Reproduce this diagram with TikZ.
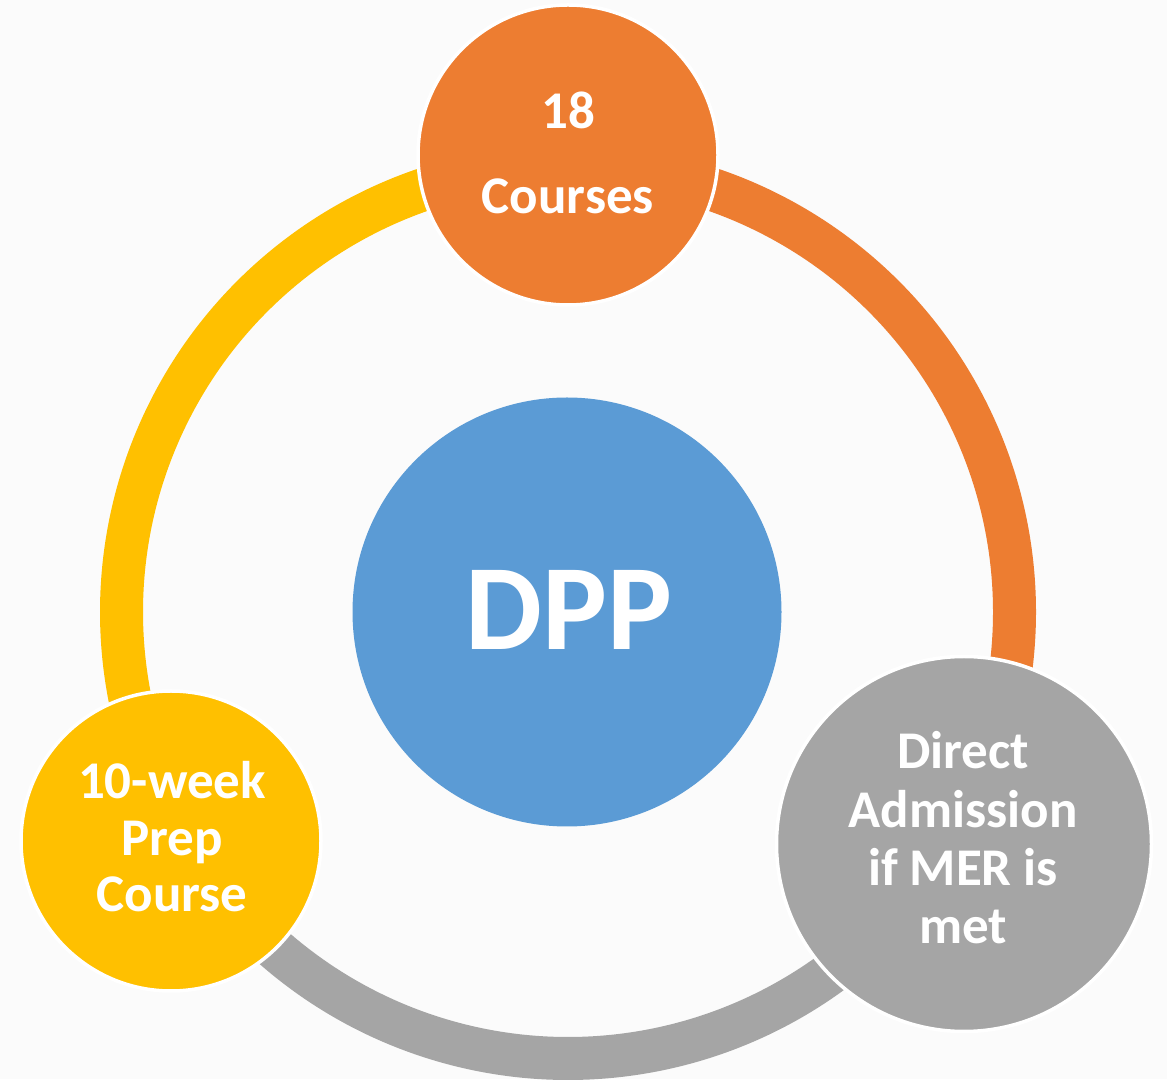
\documentclass[tikz,border=0pt]{standalone}
\usepackage{fontspec}
\setmainfont{Carlito}
\definecolor{bg}{HTML}{FBFBFB}
\definecolor{corange}{HTML}{ED7D31}
\definecolor{cyellow}{HTML}{FFC000}
\definecolor{cgray}{HTML}{A5A5A5}
\definecolor{cblue}{HTML}{5B9BD5}
\tikzset{
  band/.style={line width=43pt, line cap=butt},
  disc/.style={circle, draw=white, line width=3.5pt, inner sep=0pt},
  lbl/.style={anchor=base, text=white, inner sep=0pt, font=\fontsize{53}{60}\selectfont\bfseries},
  biglbl/.style={anchor=base, text=white, inner sep=0pt, font=\fontsize{122}{130}\selectfont\bfseries}
}
\begin{document}
\begin{tikzpicture}[x=1pt,y=1pt]
\useasboundingbox (0,0) rectangle (1167,1079);
\fill[bg] (0,0) rectangle (1167,1079);
\coordinate (ring) at (568,467);
% ring bands
\draw[band, corange] ([shift={(85:446.5)}]ring) arc[start angle=85, end angle=-25, radius=446.5];
\draw[band, cyellow] ([shift={(95:446.5)}]ring) arc[start angle=95, end angle=205, radius=446.5];
\draw[band, cgray] ([shift={(215:446.5)}]ring) arc[start angle=215, end angle=325, radius=446.5];
% circles
\node[disc, fill=corange, minimum size=300pt] (top) at (568,924) {};
\node[disc, fill=cyellow, minimum size=300pt] (left) at (171,238) {};
\node[disc, fill=cgray, minimum size=375pt] (right) at (964,235) {};
\node[circle, fill=cblue, inner sep=0pt, minimum size=429pt] (center) at (567,467) {};
% texts
\node[lbl] (t18) at (568,{1079-129}) {18};
\node[lbl] (tcourses) at (568,{1079-214}) {Courses};
\node[lbl] (t10) at (172,{1079-799}) {10-week};
\node[lbl] (tprep) at (172,{1079-856}) {Prep};
\node[lbl] (tcourse) at (172,{1079-912}) {Course};
\node[lbl] (tdirect) at (963,{1079-769}) {Direct};
\node[lbl] (tadm) at (963,{1079-828}) {Admission};
\node[lbl] (tmer) at (963,{1079-886}) {if MER is};
\node[lbl] (tmet) at (963,{1079-944}) {met};
\node[biglbl] (tdpp) at (569,{1079-650}) {DPP};
\end{tikzpicture}
\end{document}
